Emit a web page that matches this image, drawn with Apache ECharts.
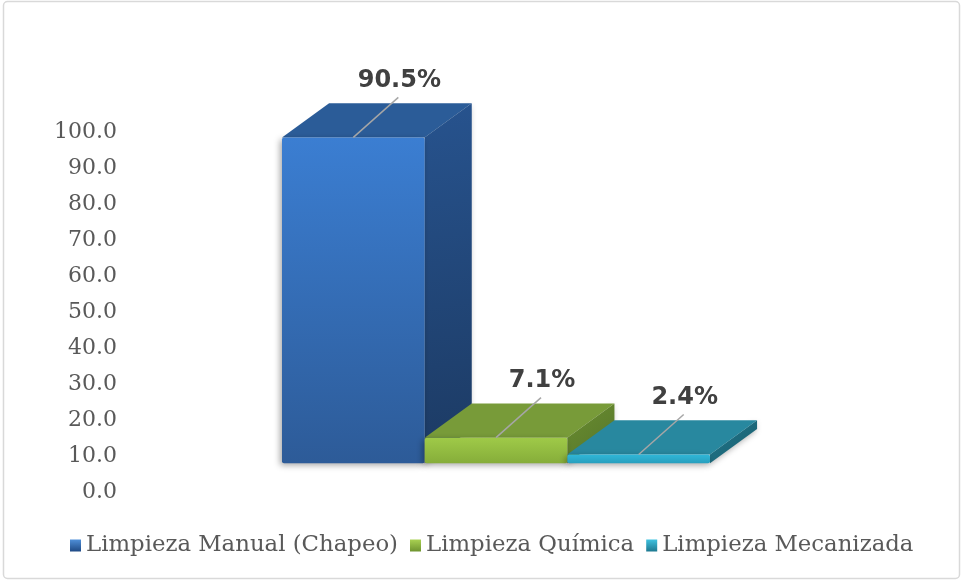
<!DOCTYPE html>
<html>
<head>
<meta charset="utf-8">
<script src="https://cdn.jsdelivr.net/npm/echarts@6/dist/echarts.min.js"></script>
<style>
  html, body { margin: 0; padding: 0; background: #ffffff; }
  #chart { width: 963px; height: 581px; }
</style>
</head>
<body>
<div id="chart"></div>
<script>
// Categories and their shares (%)
const categories = ['Limpieza Manual (Chapeo)', 'Limpieza Química', 'Limpieza Mecanizada'];
const shares = [90.5, 7.1, 2.4];

// Value axis range
const axisMin = 0;
const axisMax = 100;
const axisStep = 10;

// Face colours for each box: front gradient, side gradient, top
const faceColors = [
  { front: ['#3b7ed2', '#2d5b98'], side: ['#27538e', '#1c3a63'], top: '#2b5c98', legend: ['#4f8fd8', '#1f4a85'] },
  { front: ['#9fca48', '#86ad3a'], side: ['#6a8d30', '#55752a'], top: '#789b39', legend: ['#a9d152', '#6f9430'] },
  { front: ['#30b7d8', '#279fbe'], side: ['#207489', '#1a6070'], top: '#28889f', legend: ['#3fc2e0', '#1d7890'] }
];

const vGrad = (c) => new echarts.graphic.LinearGradient(0, 0, 0, 1, [
  { offset: 0, color: c[0] }, { offset: 1, color: c[1] }
]);
const dGrad = (c) => new echarts.graphic.LinearGradient(0, 0, 1, 1, [
  { offset: 0, color: c[0] }, { offset: 1, color: c[1] }
]);

function renderBox(params, api) {
  const ci = api.value(0);
  const v = api.value(1);
  const pal = faceColors[ci];
  const base = api.coord([ci, 0]);
  const head = api.coord([ci, v]);
  const band = api.size([1, 0])[0];
  const unit = api.size([0, 1])[1];
  const drop = unit * 8;            // floor of the box sits below the axis origin
  const dx = band * 0.33;           // depth offset
  const dy = unit * 9.5;
  const x0 = base[0] - band / 2;
  const x1 = base[0] + band / 2;
  const yb = base[1] - drop;
  const yt = head[1] - drop;
  const cx = base[0];
  const shadow = { shadowColor: 'rgba(0,0,0,0.35)', shadowBlur: 6, shadowOffsetX: -2, shadowOffsetY: 2 };

  return {
    type: 'group',
    children: [
      {
        type: 'polygon',
        shape: { points: [[x1, yt], [x1 + dx, yt - dy], [x1 + dx, yb - dy], [x1, yb]] },
        style: Object.assign({ fill: dGrad(pal.side) }, shadow)
      },
      {
        type: 'polygon',
        shape: { points: [[x0, yt], [x0 + dx, yt - dy], [x1 + dx, yt - dy], [x1, yt]] },
        style: { fill: pal.top }
      },
      {
        type: 'rect',
        shape: { x: x0, y: yt, width: band, height: yb - yt, r: 2 },
        style: Object.assign({ fill: vGrad(pal.front) }, shadow)
      },
      {
        type: 'line',
        shape: { x1: cx, y1: yt, x2: cx + 45, y2: yt - 40 },
        style: { stroke: '#a6a6a6', lineWidth: 1.5 }
      },
      {
        type: 'text',
        style: {
          x: cx + 46, y: yt - 57,
          text: v.toFixed(1) + '%',
          fill: '#404040',
          font: 'bold 24px "DejaVu Sans", Verdana, sans-serif',
          align: 'center', verticalAlign: 'middle'
        }
      }
    ]
  };
}

const chart = echarts.init(document.getElementById('chart'), null, { renderer: 'canvas' });

const series = categories.map((name, i) => ({
  type: 'custom',
  name: name,
  renderItem: renderBox,
  itemStyle: { color: vGrad(faceColors[i].legend) },
  data: [[i, shares[i]]],
  encode: { x: 0, y: 1 }
}));

chart.setOption({
  backgroundColor: '#ffffff',
  animation: false,
  graphic: [{
    type: 'rect',
    shape: { x: 3.5, y: 1.5, width: 956, height: 577, r: 4 },
    style: { fill: 'none', stroke: '#d9d9d9', lineWidth: 1.5 },
    silent: true
  }],
  grid: { left: 282, right: 253, top: 132, bottom: 89 },
  xAxis: {
    type: 'category',
    data: categories,
    boundaryGap: true,
    axisLine: { show: false },
    axisTick: { show: false },
    axisLabel: { show: false },
    splitLine: { show: false }
  },
  yAxis: {
    type: 'value',
    min: axisMin,
    max: axisMax,
    interval: axisStep,
    axisLine: { show: false },
    axisTick: { show: false },
    splitLine: { show: false },
    axisLabel: {
      margin: 165,
      color: '#595959',
      fontFamily: '"DejaVu Serif", serif',
      fontSize: 22,
      formatter: (val) => val.toFixed(1)
    }
  },
  legend: {
    bottom: 19,
    left: 65,
    icon: 'rect',
    itemWidth: 11,
    itemHeight: 12,
    itemGap: 12,
    textStyle: { color: '#595959', fontFamily: '"DejaVu Serif", serif', fontSize: 22.8 },
    data: categories
  },
  series: series
});
</script>
</body>
</html>
